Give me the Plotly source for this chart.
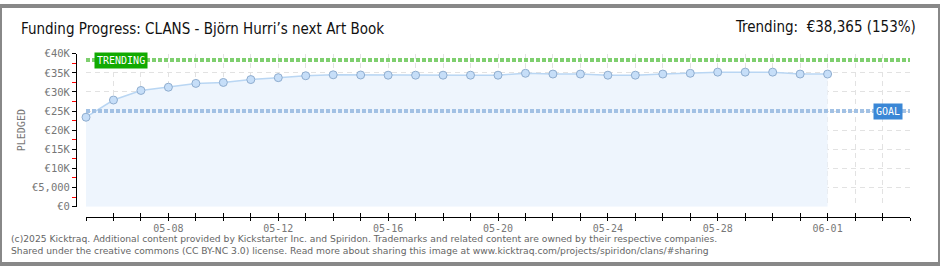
import plotly.graph_objects as go

# ---------------- data ----------------
dates = [
    "2025-05-05", "2025-05-06", "2025-05-07", "2025-05-08", "2025-05-09", "2025-05-10",
    "2025-05-11", "2025-05-12", "2025-05-13", "2025-05-14", "2025-05-15", "2025-05-16",
    "2025-05-17", "2025-05-18", "2025-05-19", "2025-05-20", "2025-05-21", "2025-05-22",
    "2025-05-23", "2025-05-24", "2025-05-25", "2025-05-26", "2025-05-27", "2025-05-28",
    "2025-05-29", "2025-05-30", "2025-05-31", "2025-06-01",
]
pledged = [
    23400, 27900, 30400, 31250, 32250, 32500,
    33250, 33750, 34250, 34500, 34450, 34400,
    34400, 34400, 34400, 34400, 34900, 34700,
    34700, 34400, 34400, 34700, 34900, 35200,
    35200, 35200, 34700, 34700,
]
goal = 25000
trending = 38365
trending_pct = 153
x_range = ["2025-05-05", "2025-06-04"]
y_tick_vals = [0, 5000, 10000, 15000, 20000, 25000, 30000, 35000, 40000]
y_tick_text = ["€0", "€5,000", "€10K", "€15K", "€20K", "€25K", "€30K", "€35K", "€40K"]
title_text = "Funding Progress: CLANS - Björn Hurri’s next Art Book"
trend_text = f"Trending:  €{trending:,} ({trending_pct}%)"
footer_lines = [
    "(c)2025 Kicktraq. Additional content provided by Kickstarter Inc. and Spiridon. Trademarks and related content are owned by their respective companies.",
    "Shared under the creative commons (CC BY-NC 3.0) license. Read more about sharing this image at www.kicktraq.com/projects/spiridon/clans/#sharing",
]

# ---------------- geometry helpers ----------------
W, H = 940, 270
def fx(p):
    return p / W
def fy(p):
    return 1 - p / H

DAY = 86400000
grid_col = "#e2e2e2"
grid_dash = "5px,4px"
pix_font = "DejaVu Sans Mono"

fig = go.Figure()
fig.add_trace(go.Scatter(
    x=dates, y=pledged, mode="lines+markers",
    fill="tozeroy", fillcolor="#eef5fd",
    line=dict(color="#b9d6f3", width=1.5),
    marker=dict(size=8, color="#c6def8", line=dict(color="#8fadcf", width=1)),
    cliponaxis=False, hoverinfo="skip", showlegend=False,
))
# helper trace so the overlay axis (crossing ticks) is drawn
fig.add_trace(go.Scatter(x=[dates[0]], y=[None], xaxis="x2", yaxis="y",
                         mode="markers", showlegend=False, hoverinfo="skip"))

fig.update_layout(
    width=W, height=H,
    margin=dict(l=0, r=0, t=0, b=0),
    paper_bgcolor="white", plot_bgcolor="white",
    showlegend=False,
    xaxis=dict(
        type="date", domain=[fx(86), fx(910)], range=x_range,
        anchor="free", position=1 - 221 / H,
        tick0="2025-05-08", dtick=4 * DAY, tickformat="%m-%d",
        ticks="inside", ticklen=4, tickcolor="black", tickwidth=1,
        ticklabelstandoff=2,
        showline=True, linecolor="black", linewidth=1,
        showgrid=True, gridcolor=grid_col, griddash=grid_dash, gridwidth=1,
        zeroline=False,
        minor=dict(tick0="2025-05-05", dtick=DAY, ticks="inside", ticklen=4,
                   tickcolor="black", showgrid=True, gridcolor=grid_col,
                   griddash=grid_dash, gridwidth=1),
        tickfont=dict(family=pix_font, size=10, color="#777"),
    ),
    xaxis2=dict(
        type="date", overlaying="x", range=x_range,
        anchor="free", position=1 - 221 / H, side="bottom",
        tick0="2025-05-05", dtick=DAY,
        ticks="outside", ticklen=3, tickcolor="black", tickwidth=1,
        showticklabels=False, showgrid=False, showline=False, zeroline=False,
    ),
    yaxis=dict(
        domain=[1 - 210 / H, 1 - 50 / H], range=[0, 40000],
        anchor="free", position=fx(76),
        tickmode="array", tickvals=y_tick_vals, ticktext=y_tick_text,
        ticks="outside", ticklen=4, tickcolor="black", tickwidth=1,
        showline=True, linecolor="black", linewidth=1,
        showgrid=True, gridcolor=grid_col, griddash=grid_dash, gridwidth=1,
        zeroline=False,
        minor=dict(tick0=2500, dtick=5000, ticks="outside", ticklen=4,
                   tickcolor="red", tickwidth=1, showgrid=False),
        tickfont=dict(family=pix_font, size=10.5, color="#777"),
    ),
)

# goal & trending lines
fig.add_shape(type="line", xref="x domain", x0=0, x1=1, yref="y", y0=trending, y1=trending,
              line=dict(color="#7fcf6f", width=4, dash="4px,2px"))
fig.add_shape(type="line", xref="x domain", x0=0, x1=1, yref="y", y0=goal, y1=goal,
              line=dict(color="#a2c1e4", width=4, dash="4px,2px"))

# outer frame
fig.add_shape(type="rect", xref="paper", yref="paper", x0=0, x1=1, y0=0, y1=1,
              line=dict(color="#888", width=4), fillcolor="rgba(0,0,0,0)")

ann = []
ann.append(dict(text="TRENDING", x=fx(120.5), y=fy(57), xref="paper", yref="paper",
                xanchor="center", yanchor="middle", showarrow=False,
                bgcolor="#11aa00", borderpad=2,
                font=dict(family=pix_font, size=10, color="white")))
ann.append(dict(text="GOAL", x=fx(888), y=fy(110), xref="paper", yref="paper",
                xanchor="center", yanchor="middle", showarrow=False,
                bgcolor="#3a87d6", borderpad=2,
                font=dict(family=pix_font, size=10, color="white")))
ann.append(dict(text="PLEDGED", x=fx(21), y=fy(130), xref="paper", yref="paper",
                xanchor="center", yanchor="middle", showarrow=False, textangle=-90,
                font=dict(family=pix_font, size=10, color="#777")))
ann.append(dict(text=title_text, x=fx(19), y=fy(24), xref="paper", yref="paper",
                xanchor="left", yanchor="middle", showarrow=False,
                font=dict(family="Liberation Sans Narrow, DejaVu Sans Condensed", size=15, color="#111")))
ann.append(dict(text=trend_text, x=fx(918), y=fy(22), xref="paper", yref="paper",
                xanchor="right", yanchor="middle", showarrow=False,
                font=dict(family="Liberation Sans Narrow, DejaVu Sans Condensed", size=15, color="#111")))
for i, line in enumerate(footer_lines):
    ann.append(dict(text=line, x=fx(9), y=fy(243.5 + 12 * i), xref="paper", yref="paper",
                    xanchor="left", yanchor="middle", showarrow=False,
                    font=dict(family="DejaVu Sans", size=9.2, color="#666")))
fig.update_layout(annotations=ann)

fig.write_html("out.html")
